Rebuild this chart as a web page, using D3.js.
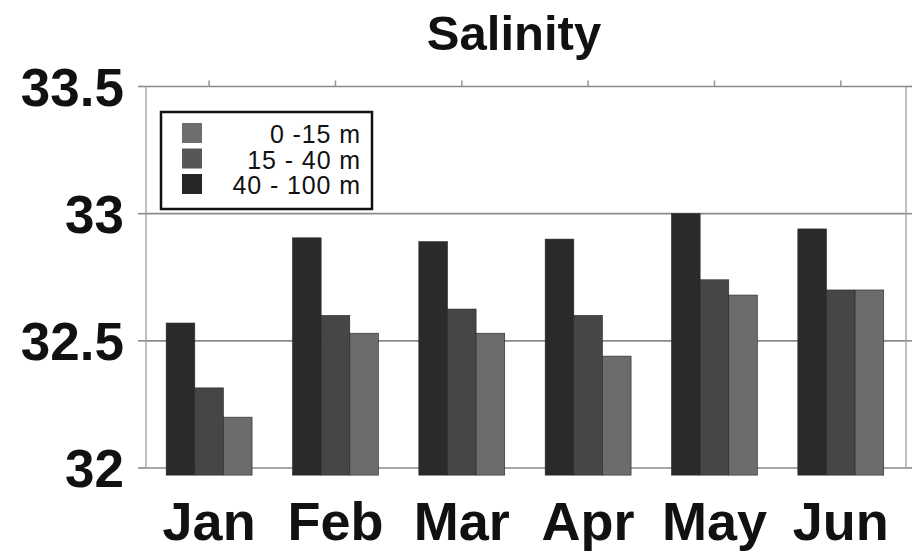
<!DOCTYPE html>
<html>
<head>
<meta charset="utf-8">
<script src="https://cdn.jsdelivr.net/npm/d3@7"></script>
<style>
  html, body { margin: 0; padding: 0; background: #fff; }
  svg { display: block; font-family: "Liberation Sans", Arial, Helvetica, sans-serif; }
</style>
</head>
<body>
<svg id="chart" width="923" height="557"></svg>
<script>
// ---- data ----
const months = ["Jan", "Feb", "Mar", "Apr", "May", "Jun"];
const seriesNames = ["40 - 100 m", "15 - 40 m", "0 -15 m"];
const depth40to100 = [32.57, 32.905, 32.89, 32.90, 33.0, 32.94];
const depth15to40 = [32.315, 32.60, 32.625, 32.60, 32.74, 32.70];
const depth0to15 = [32.20, 32.53, 32.53, 32.44, 32.68, 32.70];
const yTicks = [32, 32.5, 33, 33.5];
const yTickLabels = ["32", "32.5", "33", "33.5"];
const legendOrder = ["0 -15 m", "15 - 40 m", "40 - 100 m"];
const barBase = 31.972;
const chartTitle = "Salinity";

(function () {
const seriesValues = [depth40to100, depth15to40, depth0to15];
const colors = { "40 - 100 m": "#2a2a2a", "15 - 40 m": "#464646", "0 -15 m": "#6c6c6c" };
const legendColors = { "0 -15 m": "#6e6e6e", "15 - 40 m": "#575757", "40 - 100 m": "#262626" };

const svg = d3.select("#chart");
const pLeft = 146, pRight = 906, pTop = 86.5, pBottom = 468;

const x = d3.scaleBand().domain(months).range([150, 908])
  .paddingInner(0.32).paddingOuter(0.16).align(0.4);
const xs = d3.scaleBand().domain(seriesNames).range([0, x.bandwidth()]).padding(0);
const y = d3.scaleLinear().domain([32, 33.5]).range([pBottom, pTop]);

// grid lines
svg.append("g").selectAll("line").data(yTicks).join("line")
  .attr("x1", pLeft).attr("x2", pRight)
  .attr("y1", d => y(d)).attr("y2", d => y(d))
  .attr("stroke", "#8a8a8a").attr("stroke-width", 1.6);

// frame (left & right axes)
const frame = svg.append("g").attr("stroke", "#b0b0b0").attr("stroke-width", 1.6);
frame.append("line").attr("x1", pLeft).attr("x2", pLeft).attr("y1", y(33.5)).attr("y2", y(32));
frame.append("line").attr("x1", pRight).attr("x2", pRight).attr("y1", y(33.5)).attr("y2", y(32));

// left ticks
svg.append("g").selectAll("line").data(yTicks).join("line")
  .attr("x1", pLeft - 8).attr("x2", pLeft)
  .attr("y1", d => y(d)).attr("y2", d => y(d))
  .attr("stroke", "#8a8a8a").attr("stroke-width", 1.6);
// right ticks
svg.append("g").selectAll("line").data(yTicks).join("line")
  .attr("x1", pRight).attr("x2", pRight + 6)
  .attr("y1", d => y(d)).attr("y2", d => y(d))
  .attr("stroke", "#8a8a8a").attr("stroke-width", 1.6);
// top ticks
svg.append("g").selectAll("line").data(months).join("line")
  .attr("x1", d => x(d) + x.bandwidth() / 2).attr("x2", d => x(d) + x.bandwidth() / 2)
  .attr("y1", y(33.5) - 6).attr("y2", y(33.5))
  .attr("stroke", "#9a9a9a").attr("stroke-width", 1.6);

// bars
const groups = svg.append("g").selectAll("g").data(months).join("g")
  .attr("transform", d => `translate(${x(d)},0)`);
groups.selectAll("rect")
  .data((m, i) => seriesNames.map((s, k) => ({ s, v: seriesValues[k][i] })))
  .join("rect")
  .attr("x", d => xs(d.s))
  .attr("width", xs.bandwidth())
  .attr("y", d => y(d.v))
  .attr("height", d => y(barBase) - y(d.v))
  .attr("fill", d => colors[d.s])
  .attr("stroke", "#262626").attr("stroke-width", 0.6);

// y labels
svg.append("g").selectAll("text").data(yTicks).join("text")
  .attr("x", 124).attr("y", d => y(d))
  .attr("dy", "0.36em")
  .attr("text-anchor", "end")
  .attr("font-size", 53).attr("font-weight", "bold").attr("fill", "#111")
  .text((d, i) => yTickLabels[i]);

// x labels
svg.append("g").selectAll("text").data(months).join("text")
  .attr("x", d => x(d) + x.bandwidth() / 2).attr("y", 540)
  .attr("text-anchor", "middle")
  .attr("font-size", 54).attr("font-weight", "bold").attr("fill", "#111")
  .text(d => d);

// title
svg.append("text").attr("x", 514).attr("y", 50)
  .attr("text-anchor", "middle")
  .attr("font-size", 49).attr("font-weight", "bold").attr("fill", "#111")
  .text(chartTitle);

// legend
const lg = svg.append("g");
lg.append("rect").attr("x", 161).attr("y", 112).attr("width", 211).attr("height", 97)
  .attr("fill", "#fff").attr("stroke", "#111").attr("stroke-width", 2.5);
const rows = lg.selectAll("g.row").data(legendOrder).join("g").attr("class", "row")
  .attr("transform", (d, i) => `translate(0,${123 + i * 25.5})`);
rows.append("rect").attr("x", 182).attr("y", 0).attr("width", 20).attr("height", 20)
  .attr("fill", d => legendColors[d]);
rows.append("text").attr("x", 361).attr("y", 20)
  .attr("text-anchor", "end").attr("font-size", 25).attr("letter-spacing", 0.9).attr("fill", "#111")
  .text(d => d);
})();
</script>
</body>
</html>
